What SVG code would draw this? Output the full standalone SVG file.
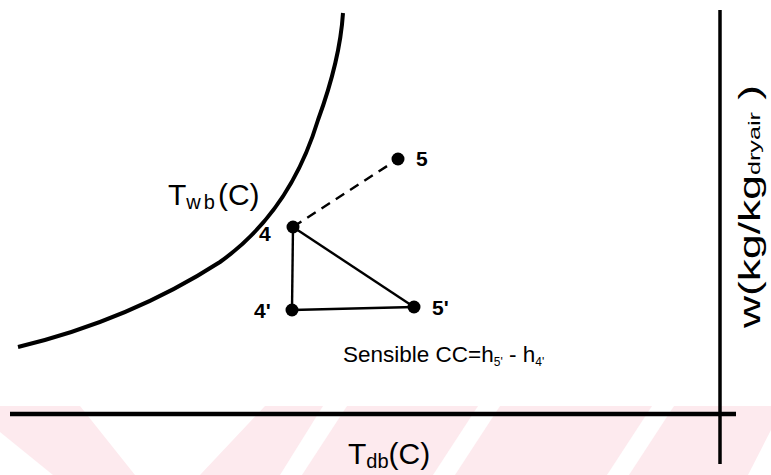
<svg xmlns="http://www.w3.org/2000/svg" width="771" height="475" viewBox="0 0 771 475">
<style>
.ln{stroke:#000;stroke-width:2.4;fill:none}
.dot{fill:#000}
.pt{font-family:"Liberation Sans",Arial,sans-serif;font-weight:bold;font-size:21px;fill:#000}
.lb{font-family:"Liberation Sans",Arial,sans-serif;fill:#000}
.wm{fill:#fdeaee}
</style>
<rect width="771" height="475" fill="#fff"/>
<g id="watermark">
<rect class="wm" x="0" y="406" width="771" height="69"/>
<polygon points="0,432 0,475 53,475" fill="#fff"/>
<polygon points="80,406 265,406 200,475 135,475" fill="#fff"/>
<polygon points="323,406 347,406 302,475 280,475" fill="#fff"/>
<polygon points="478,406 500,406 455,475 433,475" fill="#fff"/>
<polygon points="652,406 674,406 629,475 607,475" fill="#fff"/>
<polygon points="771,430 771,475 748,475" fill="#fff"/>
</g>
<g id="axes">
<line x1="10" y1="414" x2="736" y2="414" stroke="#000" stroke-width="4.5"/>
<line x1="720" y1="10" x2="720" y2="464" stroke="#000" stroke-width="3.5"/>
</g>
<g id="wb-curve">
<path d="M18,347 Q130,320 220,262 Q290,212 318,120 Q340,60 343,13" stroke="#000" stroke-width="4" fill="none"/>
</g>
<g id="connectors">
<line class="ln" x1="293" y1="227" x2="398" y2="159" stroke-dasharray="10,7"/>
<line class="ln" x1="293" y1="227" x2="292" y2="310"/>
<line class="ln" x1="292" y1="310" x2="414" y2="307"/>
<line class="ln" x1="293" y1="227" x2="414" y2="307"/>
</g>
<g id="p5"><circle class="dot" cx="398" cy="159" r="6.5"/><text class="pt" x="416" y="166">5</text></g>
<g id="p4"><circle class="dot" cx="293" cy="227" r="6.5"/><text class="pt" x="259" y="241">4</text></g>
<g id="p4p"><circle class="dot" cx="292" cy="310" r="6.5"/><text class="pt" x="254" y="318">4'</text></g>
<g id="p5p"><circle class="dot" cx="414" cy="307" r="6.5"/><text class="pt" x="432" y="315">5'</text></g>
<g id="label-twb"><text class="lb" x="168" y="205" font-size="30">T<tspan font-size="20" dy="4" letter-spacing="3">wb</tspan><tspan dy="-4">(C)</tspan></text></g>
<g id="label-tdb"><text class="lb" x="348" y="464" font-size="30">T<tspan font-size="20" dy="4">db</tspan><tspan dy="-4">(C)</tspan></text></g>
<g id="label-w"><text class="lb" transform="translate(760,328) rotate(-90)" font-size="30" textLength="243" lengthAdjust="spacingAndGlyphs">w(kg/kg<tspan font-size="17">dryair</tspan> )</text></g>
<g id="label-cc"><text class="lb" x="343" y="362" font-size="22.5">Sensible CC=h<tspan font-size="12" dy="4">5'</tspan><tspan dy="-4"> - h</tspan><tspan font-size="12" dy="4">4'</tspan></text></g>
</svg>
